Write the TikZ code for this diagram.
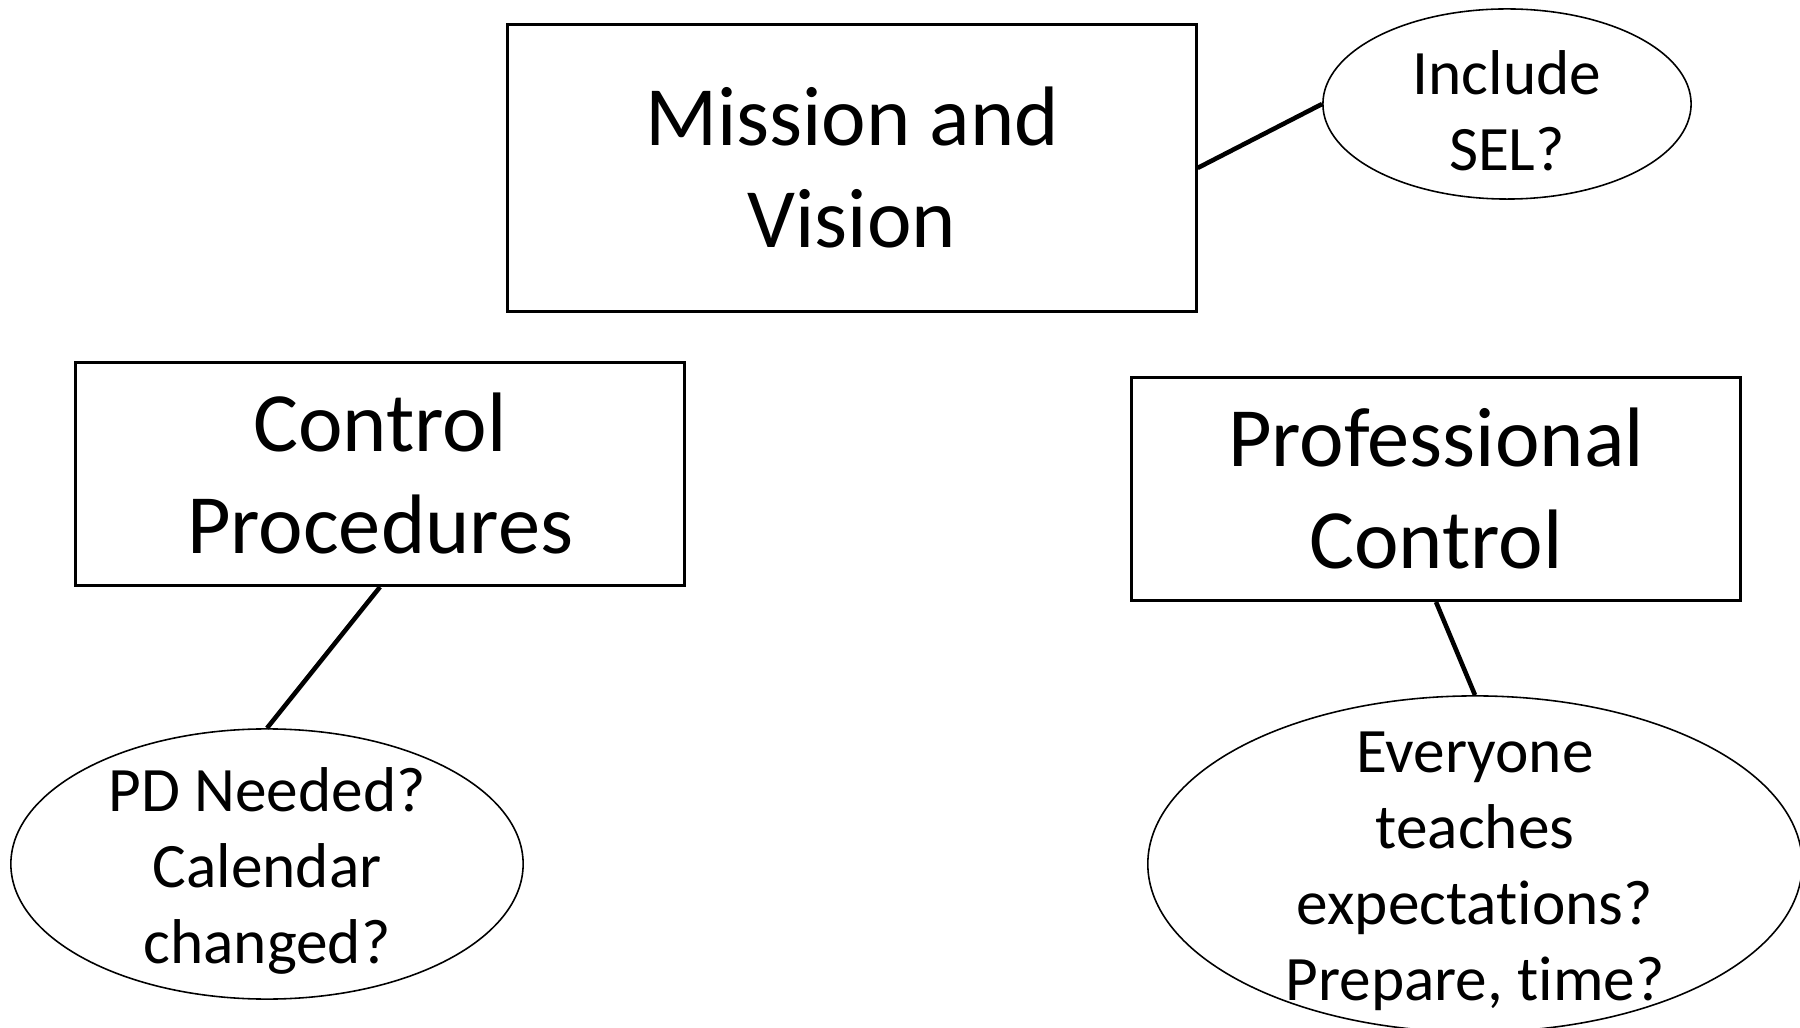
\documentclass[tikz,border=0pt]{standalone}
\usepackage{fontspec}
\setmainfont{Carlito}[Ligatures=NoCommon]
\usetikzlibrary{positioning,shapes.geometric}

\begin{document}
\begin{tikzpicture}[
  x=0.01cm, y=-0.01cm,
  box/.style={rectangle, draw, line width=0.8pt, minimum width=6.08cm,
              minimum height=2.23cm, align=center, font=\fontsize{24}{29}\selectfont},
  bubble/.style={ellipse, draw, line width=0.45pt, inner sep=0pt},
  bubtext/.style={align=center, yshift=-0.07cm, font=\fontsize{18}{21.6}\selectfont},
  link/.style={line width=1.3pt}
]
\useasboundingbox (0,0) rectangle (1800,1028);

% Top: mission
\node[box, minimum width=6.88cm, minimum height=2.87cm] (mission) at (852,168) {Mission and\\Vision};
\node[bubble, minimum width=3.68cm, minimum height=1.9cm] (sel) at (1507,104) {};
\node[bubtext] (seltext) at (sel) {Include\\SEL?};

% Left: control procedures
\node[box] (procs) at (380,474) {Control\\Procedures};
\node[bubble, minimum width=5.12cm, minimum height=2.7cm] (pd) at (267,864) {};
\node[bubtext] (pdtext) at (pd) {PD Needed?\\Calendar\\changed?};

% Right: professional control
\node[box] (prof) at (1436,489) {Professional\\Control};
\node[bubble, minimum width=6.54cm, minimum height=3.36cm] (evry) at (1475,864) {};
\node[bubtext] (evrytext) at (evry) {Everyone\\teaches\\expectations?\\Prepare, time?};

% Links
\draw[link] (mission.east) -- (sel.west);
\draw[link] (procs.south) -- (pd.north);
\draw[link] (prof.south) -- (evry.north);

\end{tikzpicture}
\end{document}
